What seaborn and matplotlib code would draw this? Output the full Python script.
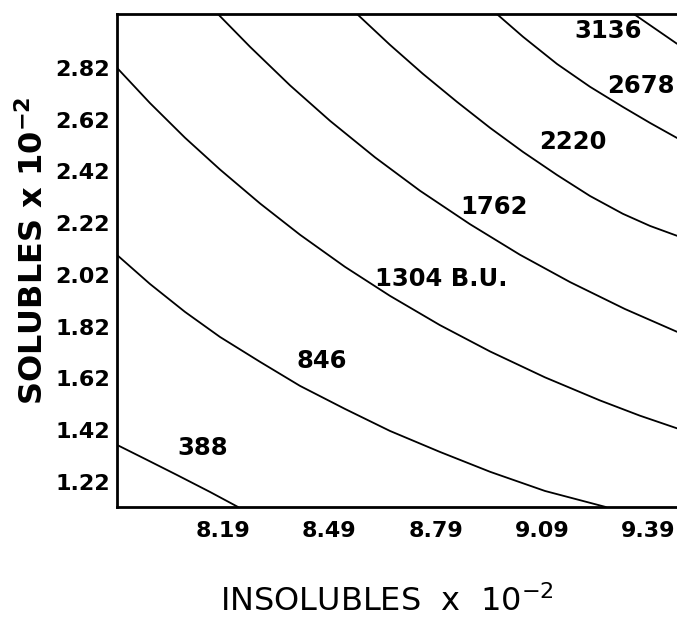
import matplotlib
matplotlib.use("Agg")
import matplotlib.pyplot as plt
import numpy as np
import pandas as pd
import seaborn as sns

# ---- data (INSOLUBLES x 1e-2, SOLUBLES x 1e-2) ----
x_388 = [7.890, 7.969, 8.059, 8.153, 8.232]
y_388 = [1.363, 1.309, 1.247, 1.181, 1.123]

x_846 = [7.890, 7.983, 8.082, 8.181, 8.294, 8.407, 8.534, 8.661, 8.802, 8.944, 9.099, 9.271]
y_846 = [2.097, 1.985, 1.877, 1.780, 1.684, 1.591, 1.502, 1.417, 1.336, 1.259, 1.185, 1.123]

x_1304 = [7.890, 7.983, 8.082, 8.181, 8.294, 8.407, 8.534, 8.661, 8.802, 8.944,
          9.099, 9.254, 9.367, 9.472]
y_1304 = [2.820, 2.684, 2.550, 2.427, 2.296, 2.175, 2.051, 1.939, 1.826, 1.724,
          1.624, 1.535, 1.476, 1.427]

x_1762 = [8.175, 8.266, 8.379, 8.492, 8.619, 8.746, 8.887, 9.028, 9.170, 9.325, 9.472]
y_1762 = [3.028, 2.901, 2.752, 2.615, 2.474, 2.345, 2.216, 2.098, 1.992, 1.888, 1.800]

x_2220 = [8.568, 8.661, 8.754, 8.850, 8.944, 9.037, 9.133, 9.226, 9.319, 9.396, 9.472]
y_2220 = [3.028, 2.909, 2.797, 2.689, 2.588, 2.495, 2.406, 2.325, 2.256, 2.209, 2.171]

x_2678 = [8.963, 9.037, 9.133, 9.226, 9.319, 9.396, 9.472]
y_2678 = [3.028, 2.940, 2.835, 2.747, 2.669, 2.607, 2.549]

x_3136 = [9.350, 9.472]
y_3136 = [3.028, 2.913]

levels = [388, 846, 1304, 1762, 2220, 2678, 3136]
level_text = ["388", "846", "1304 B.U.", "1762", "2220", "2678", "3136"]
label_x = [8.132, 8.468, 8.805, 8.956, 9.178, 9.370, 9.277]
label_y = [1.324, 1.661, 1.977, 2.256, 2.507, 2.723, 2.936]

x_ticks = [7.99, 8.09, 8.19, 8.29, 8.39, 8.49, 8.59, 8.69, 8.79, 8.89, 8.99,
           9.09, 9.19, 9.29, 9.39]
x_ticklabels = ["", "", "8.19", "", "", "8.49", "", "", "8.79", "", "",
                "9.09", "", "", "9.39"]
y_ticks = [1.22, 1.32, 1.42, 1.52, 1.62, 1.72, 1.82, 1.92, 2.02, 2.12, 2.22,
           2.32, 2.42, 2.52, 2.62, 2.72, 2.82, 2.92]
y_ticklabels = ["1.22", "", "1.42", "", "1.62", "", "1.82", "", "2.02", "",
                "2.22", "", "2.42", "", "2.62", "", "2.82", ""]

curves = {388: (x_388, y_388), 846: (x_846, y_846), 1304: (x_1304, y_1304),
          1762: (x_1762, y_1762), 2220: (x_2220, y_2220),
          2678: (x_2678, y_2678), 3136: (x_3136, y_3136)}

rows = []
for lev in levels:
    xs, ys = curves[lev]
    for i, (xv, yv) in enumerate(zip(xs, ys)):
        rows.append({"ins": xv, "sol": yv, "level": lev, "order": i})
df = pd.DataFrame(rows)

# ---- styling ----
sns.set_theme(style="white")
plt.rcParams["font.family"] = ["DejaVu Sans"]
plt.rcParams["mathtext.default"] = "regular"

fig = plt.figure(figsize=(6.77, 6.20), dpi=100)
ax = fig.add_axes([117 / 677, 1 - 507 / 620, (677 - 117) / 677, (507 - 14) / 620])

sns.lineplot(data=df, x="ins", y="sol", units="level", estimator=None,
             sort=False, color="black", linewidth=1.3, legend=False, ax=ax)

for t, lx, ly in zip(level_text, label_x, label_y):
    ax.text(lx, ly, t, ha="center", va="baseline", fontsize=17.5,
            fontweight="bold", color="black")

ax.set_xlim(7.89, 9.472)
ax.set_ylim(1.123, 3.028)

ax.set_xticks(x_ticks)
ax.set_xticklabels(x_ticklabels)
ax.set_yticks(y_ticks)
ax.set_yticklabels(y_ticklabels)
for lab in ax.get_xticklabels() + ax.get_yticklabels():
    lab.set_fontweight("bold")
    lab.set_fontsize(16)

ax.tick_params(axis="both", direction="in", length=7.5, width=1.1,
               color="black", labelcolor="black")
ax.tick_params(axis="x", pad=10)
ax.tick_params(axis="y", pad=5)

for side in ["left", "bottom", "top"]:
    ax.spines[side].set_visible(True)
    ax.spines[side].set_linewidth(2.0)
    ax.spines[side].set_color("black")
ax.spines["right"].set_visible(False)

ax.set_xlabel(r"INSOLUBLES  x  10$^{-2}$", fontsize=23, color="black")
ax.set_ylabel(r"SOLUBLES x 10$^{-2}$", fontsize=23, fontweight="bold",
              color="black")
ax.xaxis.set_label_coords((387 - 117) / 560, -0.158)
ax.yaxis.set_label_coords(-0.12, 0.52)

fig.savefig("out.png", dpi=100)
